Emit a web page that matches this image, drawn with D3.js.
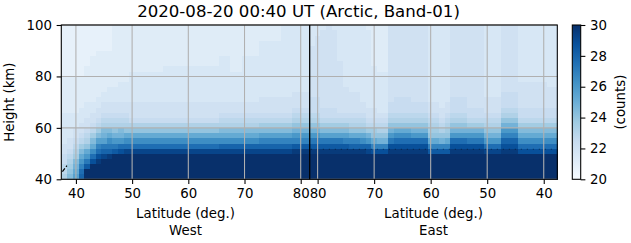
<!DOCTYPE html>
<meta charset="utf-8">
<style>
body { margin: 0; background: #fff; }
svg { font-family: "DejaVu Sans", sans-serif; }
.grid line { stroke: #b0b0b0; stroke-width: 1.07px; }
</style>
<svg width="631" height="243"></svg>
<script src="https://cdn.jsdelivr.net/npm/d3@7"></script>
<script>

var title = "2020-08-20 00:40 UT (Arctic, Band-01)";

// cell centres (km), bottom to top, 2 km cells
var heights = [41, 43, 45, 47, 49, 51, 53, 55, 57, 59, 61, 63, 65, 67, 69,
               71, 73, 75, 77, 79, 81, 83, 85, 87, 89, 91, 93, 95, 97, 99];

var westLats = [38, 39, 40, 41, 42, 43, 44, 45, 46, 47, 48, 49, 50, 51, 52,
                53, 54, 55, 56, 57, 58, 59, 60, 61, 62, 63, 64, 65, 66, 67,
                68, 69, 70, 71, 72, 73, 74, 75, 76, 77, 78, 79, 80, 81];
var eastLats = [81, 80, 79, 78, 77, 76, 75, 74, 73, 72, 71, 70, 69, 68, 67,
                66, 65, 64, 63, 62, 61, 60, 59, 58, 57, 56, 55, 54, 53, 52,
                51, 50, 49, 48, 47, 46, 45, 44, 43, 42, 41, 40, 39, 38];

// one string per column, one letter per cell from bottom up: a = 20 counts, each letter +0.4
var levels = "abcdefghijklmnopqrstuvwxyz";

var westCols = [
  "ihhgg ffeee eeedd ddddd ccccc ccccc", // 38
  "lkjih gffee eeedd ddddd ccccc ccccc",
  "onmlj ihgff eeedd ddddd ccccc ccccc", // 40
  "utrpn ljhgf feeed ddddd ccccc ccccc",
  "zzvsp nkihg ffeee ddddd ddccc ccccc",
  "zzzwt qnljh gffee ddddd ddddc ccccc",
  "zzzyw trolj hgffe edddd ddddd ccccc",
  "zzzzx usoml ihgff eeddd ddddd ccccc", // 45
  "zzzzy usqnl ihgff eeedd ddddd ccccc",
  "zzzzz vspmk ihgff eeedd ddddd ddddd",
  "zzzzz wtpml ihgff eeeed ddddd ddddd",
  "zzzzz xtqnk ihgff eeeed ddddd ddddd",
  "zzzzz xtqnk igfff eeeee edddd ddddd", // 50
  "zzzzz xtqnk igfff eeeee edddd ddddd",
  "zzzzz xtqnk igfff eeeee edddd ddddd",
  "zzzzz xtqnk igfff eeeee edddd ddddd",
  "zzzzz xtqnk igfff eeeee edddd ddddd",
  "zzzzz xtqnk igfff eeeee edddd ddddd", // 55
  "zzzzz xtqnk igfff eeeee eeddd ddddd",
  "zzzzz xtqnk igfff eeeee eeddd ddddd",
  "zzzzz xtqnk igfff eeeee eeddd ddddd",
  "zzzzz xtqnk igfff eeeee eeddd ddddd",
  "zzzzz xtqnk igfff eeeee eeddd ddddd", // 60
  "zzzzz xtqnk igfff eeeee eeddd ddddd",
  "zzzzz xtqnk igfff eeeee eeddd ddddd",
  "zzzzz xtqnk igfff eeeee eeddd ddddd",
  "zzzzz xtqnk igfff eeeee eeddd ddddd",
  "zzzzz xtqnk igfff eeeee eeddd ddddd", // 65
  "zzzzz xuqnl ihgff eeeee eeeed ddddd",
  "zzzzz xuqnl ihgff eeeee eeeed ddddd",
  "zzzzz xuqnl ihgff eeeee edddd ddddd",
  "zzzzz xuqnl ihgff eeeee edddd ddddd",
  "zzzzz xuqnl ihgff eeeee eeeed ddddd", // 70
  "zzzzz xuqnl ihgff eeeee eeeed ddddd",
  "zzzzz xuqnl ihgff eeeee eeeed ddddd",
  "zzzzz xurol jhgff feeee eeeee eeddd",
  "zzzzz xurol jhgff feeee eeeee eeddd",
  "zzzzz xurol jhgff feeee eeeee eeddd", // 75
  "zzzzz xurol jhgff feeee eeeee eeddd",
  "zzzzz xurol jhgff feeee eeeee eeeee",
  "zzzzz xurol jhgff feeee eeeee eeeee",
  "zzzzz yvrpm kihgf ffeee eeeee eeeee",
  "zzzzz yvrpm kihgf ffeee eeeee eeeee", // 80
  "zzzzz yvrpm kihgf ffeee eeeee eeeee"
];

var eastCols = [
  "zzzzz yvspm kihgg gffff fffff feeee", // 81
  "zzzzz yvspm kihgg gffff fffff fffee", // 80
  "zzzzz yvsol jhggf fffff fffff ffffe",
  "zzzzz yvsol jhggf fffff fffff fffff",
  "zzzzz yvsol jhggf fffff fffff ffffe",
  "zzzzz yvsol jhgff fffff fffee eeeee",
  "zzzzz yvrol jhgff fffee eeeee eeeee", // 75
  "zzzzz yurnk ihgff ffeee eeeee eeeee",
  "zzzzz yurnk ihgff ffeee eeeee eeeee",
  "zzzzz yuqnk ihgff eeeee eeeee eeeee",
  "zzzzz xupmj hgffe eeeee eeeee eeeed",
  "zzzzz wrnkj hgffe eeeee eeddd ddddd", // 70
  "zzzzz wrmki hgfee eeeee edddd ddddd",
  "zzzzz wrmki hgfee eeeee edddd ddddd",
  "zzzzz ywspm kihgg fffff fffff fffff",
  "zzzzz ywtqn kihgg gffff fffff fffff",
  "zzzzz ywtqn kihgg gffff fffff fffff", // 65
  "zzzzz ywtqn kihgg gffff fffff fffff",
  "zzzzz ywtpm kihgg fffff fffff fffff",
  "zzzzz ywtpm kihgg fffff fffff fffff",
  "zzzzz ywtpm kihgg fffff fffff fffff",
  "zzzzz vrnkj ihgff eeeee eeeee eeeee", // 60
  "zzzzz vrnkj ihgff eeeee eeeee eeeee",
  "zzzzz vrmki hgffe eeeee eeeee eeeee",
  "zzzzz vrnkj ihgff eeeee eeeee eeeee",
  "zzzzz ywtpm kihgg gffff fffff fffff",
  "zzzzz ywtpm kihgg gffff fffff fffff", // 55
  "zzzzz ywtpm kihgg gffff fffff fffff",
  "zzzzz ywspm jhggf fffff fffff fffff",
  "zzzzz ywspm jhggf fffff fffff fffff",
  "zzzzz ywspm jhggf fffff fffff fffff",
  "zzzzz xtpmk ihgff feeee eeeee eeeee", // 50
  "zzzzz xtpmk ihgff feeee eeeee eeeee",
  "zzzzz xtpmk ihgff feeee eeeee eeeee",
  "zzzzz ywurp mkihg ggfff fffff fffff",
  "zzzzz ywurp mkihg ggfff fffff fffff",
  "zzzzz ywurp mkihg ggfff fffff fffff", // 45
  "zzzzz wtqnl jhggf ffffe eeeee eeeee",
  "zzzzz wtqnl jhggf ffffe eeeee eeeee",
  "zzzzz wtqnl jhggf ffffe eeeee eeeee",
  "zzzzz wtqnl jhggf ffffe eeeee eeeee",
  "zzzzz wtqnl jhggf ffffe eeeee eeeee", // 40
  "zzzzz wtqnl jhggf fffee eeeee eeeee",
  "zzzzz wtqnl jhggf fffee eeeee eeeee"  // 38
];

// dashed black overlay lines (lat, km)
var westLine = [[37.6, 43.0], [38.4, 45.3]];
var eastLine = [[81.2, 51.7], [37.8, 51.7]];

var westTicks = [40, 50, 60, 70, 80];
var eastTicks = [80, 70, 60, 50, 40];
var yTicks = [40, 60, 80, 100];
var cbTicks = [20, 22, 24, 26, 28, 30];
var blues = ["#f7fbff", "#deebf7", "#c6dbef", "#9ecae1", "#6baed6",
             "#4292c6", "#2171b5", "#08519c", "#08306b"];

var svg = d3.select("svg"),
    pL = 61.3, pS = 309.7, pR = 557.3, pT = 25, pB = 179.3;

var xW = d3.scaleLinear().domain([37.4, 81.6]).range([pL, pS]);
var xE = d3.scaleLinear().domain([81.4, 37.6]).range([pS, pR]);
var y = d3.scaleLinear().domain([40, 100]).range([pB, pT]);
var color = d3.scaleLinear()
    .domain(blues.map(function(c, i) { return 20 + i * 10 / 8; }))
    .range(blues).clamp(true);

function cells(lats, cols, x) {
  var dom = x.domain(), out = [];
  lats.forEach(function(lat, i) {
    var a = i === 0 ? dom[0] : (lats[i - 1] + lat) / 2,
        b = i === lats.length - 1 ? dom[1] : (lat + lats[i + 1]) / 2,
        s = cols[i].replace(/ /g, "");
    heights.forEach(function(h, j) {
      out.push({x0: x(a), x1: x(b), h: h, v: 20 + 0.4 * levels.indexOf(s[j])});
    });
  });
  return out;
}

var data = cells(westLats, westCols, xW).concat(cells(eastLats, eastCols, xE));

svg.append("g").selectAll("rect")
  .data(data)
  .enter().append("rect")
    .attr("x", function(d) { return Math.min(d.x0, d.x1); })
    .attr("width", function(d) { return Math.abs(d.x1 - d.x0) + 0.3; })
    .attr("y", function(d) { return y(d.h + 1); })
    .attr("height", function(d) { return y(d.h - 1) - y(d.h + 1) + 0.3; })
    .attr("fill", function(d) { return color(d.v); })
    .attr("shape-rendering", "crispEdges");

// dashed overlays
var lineW = d3.line().x(function(d) { return xW(d[0]); }).y(function(d) { return y(d[1]); });
var lineE = d3.line().x(function(d) { return xE(d[0]); }).y(function(d) { return y(d[1]); });
svg.append("path").attr("d", lineW(westLine))
    .attr("fill", "none").attr("stroke", "#000").attr("stroke-width", 1.2)
    .attr("stroke-dasharray", "4,2");
svg.append("path").attr("d", lineE(eastLine))
    .attr("fill", "none").attr("stroke", "#000").attr("stroke-opacity", 0.45)
    .attr("stroke-width", 1).attr("stroke-dasharray", "1,5");

// grid
var grid = svg.append("g").attr("class", "grid");
grid.selectAll(".gw").data(westTicks).enter().append("line")
    .attr("x1", xW).attr("x2", xW).attr("y1", pT).attr("y2", pB);
grid.selectAll(".ge").data(eastTicks).enter().append("line")
    .attr("x1", xE).attr("x2", xE).attr("y1", pT).attr("y2", pB);
grid.selectAll(".gy").data(yTicks).enter().append("line")
    .attr("x1", pL).attr("x2", pR).attr("y1", y).attr("y2", y);

// separator and frame
svg.append("line").attr("x1", pS).attr("x2", pS).attr("y1", pT).attr("y2", pB)
    .attr("stroke", "#000").attr("stroke-width", 1.3);
svg.append("rect").attr("x", pL).attr("y", pT)
    .attr("width", pR - pL).attr("height", pB - pT)
    .attr("fill", "none").attr("stroke", "#000").attr("stroke-width", 1.07);

function styleAxis(g) {
  g.select(".domain").remove();
  g.selectAll(".tick line").attr("stroke", "#000").attr("stroke-width", 1.07);
  g.selectAll(".tick text").attr("fill", "#000")
      .attr("font-family", "DejaVu Sans").attr("font-size", "13.33px");
}

svg.append("g").attr("transform", "translate(0," + pB + ")")
    .call(d3.axisBottom(xW).tickValues(westTicks).tickSize(4.67).tickPadding(4.67))
    .call(styleAxis);
svg.append("g").attr("transform", "translate(0," + pB + ")")
    .call(d3.axisBottom(xE).tickValues(eastTicks).tickSize(4.67).tickPadding(4.67))
    .call(styleAxis);
svg.append("g").attr("transform", "translate(" + pL + ",0)")
    .call(d3.axisLeft(y).tickValues(yTicks).tickSize(4.67).tickPadding(4.67))
    .call(styleAxis);

// colorbar
var cbX = 572.3, cbW = 8.4;
var cbY = d3.scaleLinear().domain([20, 30]).range([pB, pT]);
var grad = svg.append("defs").append("linearGradient").attr("id", "cb")
    .attr("x1", 0).attr("y1", 1).attr("x2", 0).attr("y2", 0);
grad.selectAll("stop").data(blues).enter().append("stop")
    .attr("offset", function(d, i) { return i / 8; })
    .attr("stop-color", function(d) { return d; });
svg.append("rect").attr("x", cbX).attr("y", pT).attr("width", cbW).attr("height", pB - pT)
    .attr("fill", "url(#cb)").attr("stroke", "#000").attr("stroke-width", 1.07);
svg.append("g").attr("transform", "translate(" + (cbX + cbW) + ",0)")
    .call(d3.axisRight(cbY).tickValues(cbTicks).tickSize(4.67).tickPadding(4.67))
    .call(styleAxis);

// texts
function label(x, yy, txt, size, rot) {
  var t = svg.append("text").attr("text-anchor", "middle")
      .attr("font-family", "DejaVu Sans").attr("font-size", size).attr("fill", "#000")
      .text(txt);
  if (rot) t.attr("transform", "translate(" + x + "," + yy + ") rotate(-90)");
  else t.attr("x", x).attr("y", yy);
}
label(298.5, 17, title, "16.6px");
label((pL + pS) / 2, 218, "Latitude (deg.)", "13.33px");
label((pL + pS) / 2, 234.5, "West", "13.33px");
label((pS + pR) / 2, 218, "Latitude (deg.)", "13.33px");
label((pS + pR) / 2, 234.5, "East", "13.33px");
label(14, (pT + pB) / 2, "Height (km)", "13.33px", true);
label(625, (pT + pB) / 2, "(counts)", "13.33px", true);

</script>
